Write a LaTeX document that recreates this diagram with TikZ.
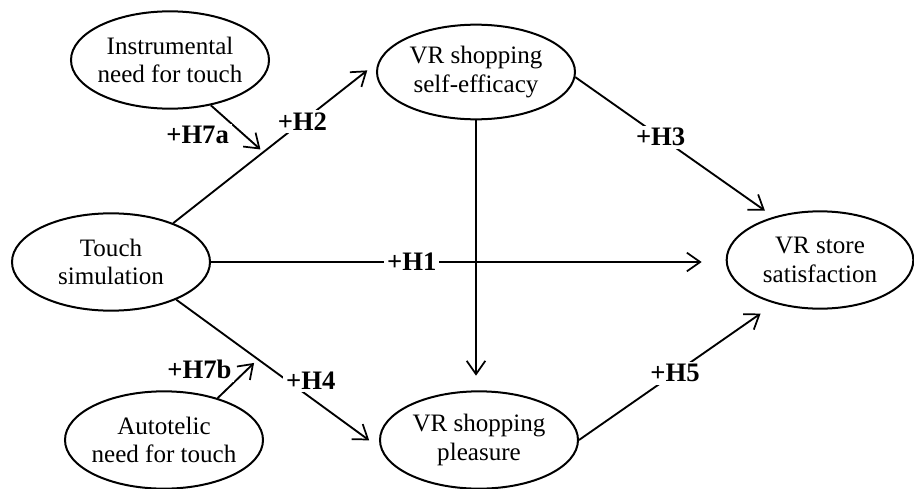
\documentclass[tikz,border=0pt]{standalone}
\usepackage{fontspec}
\setmainfont{Liberation Serif}
\usetikzlibrary{shapes.geometric,arrows.meta}
\tikzset{
  construct/.style={ellipse, draw, line width=1.5pt, minimum width=148.5pt, minimum height=73pt,
    inner sep=-8pt, align=center, font=\fontsize{18.8}{21.5}\selectfont},
  hyp/.style={fill=white, inner sep=2pt, font=\fontsize{20}{20}\selectfont\bfseries},
  link/.style={line width=1.4pt, -{Straight Barb[length=10pt,width=14pt,line width=1.3pt]}}
}
\begin{document}
\begin{tikzpicture}[x=0.75pt,y=-0.75pt]
    \useasboundingbox (0,0) rectangle (914,489);
    \node[construct] (instr) at (170,60) {Instrumental\\need for touch};
    \node[construct, minimum height=71pt] (selfeff) at (476,72) {VR shopping\\self-efficacy};
    \node[construct] (touch) at (111,262) {Touch\\simulation};
    \node[construct, minimum width=140pt] (sat) at (820,260) {VR store\\satisfaction};
    \node[construct] (auto) at (164,440) {Autotelic\\need for touch};
    \node[construct] (pleas) at (479,440) {VR shopping\\pleasure};
    % hypotheses
    \draw[link, shorten >=18pt] (touch.east) -- node[hyp, pos=0.39] {+H1} (touch.east -| sat.west);
    \draw[link, shorten >=10.5pt] (touch.32) -- coordinate[pos=0.44] (m2) node[hyp, pos=0.63] {+H2} (selfeff.174);
    \draw[link, shorten >=8pt] (selfeff.-3) -- node[hyp, pos=0.43] {+H3} (sat.137);
    \draw[link, shorten >=10.5pt] (touch.-30) -- coordinate[pos=0.40] (m4) node[hyp, pos=0.6, xshift=9pt, yshift=6pt] {+H4} (pleas.185);
    \draw[link, shorten >=13pt] (pleas.east) -- node[hyp, pos=0.49] {+H5} (sat.224);
    \draw[link, shorten >=11pt] (selfeff.south) -- (selfeff.south |- pleas.north);
    % moderators
    \draw[link, shorten >=3pt] (instr.-48) -- node[hyp, pos=0.64, left=9pt] {+H7a} (m2);
    \draw[link, shorten >=4pt] (auto.38) -- node[hyp, pos=0.73, left=9pt] {+H7b} (m4);
\end{tikzpicture}
\end{document}
